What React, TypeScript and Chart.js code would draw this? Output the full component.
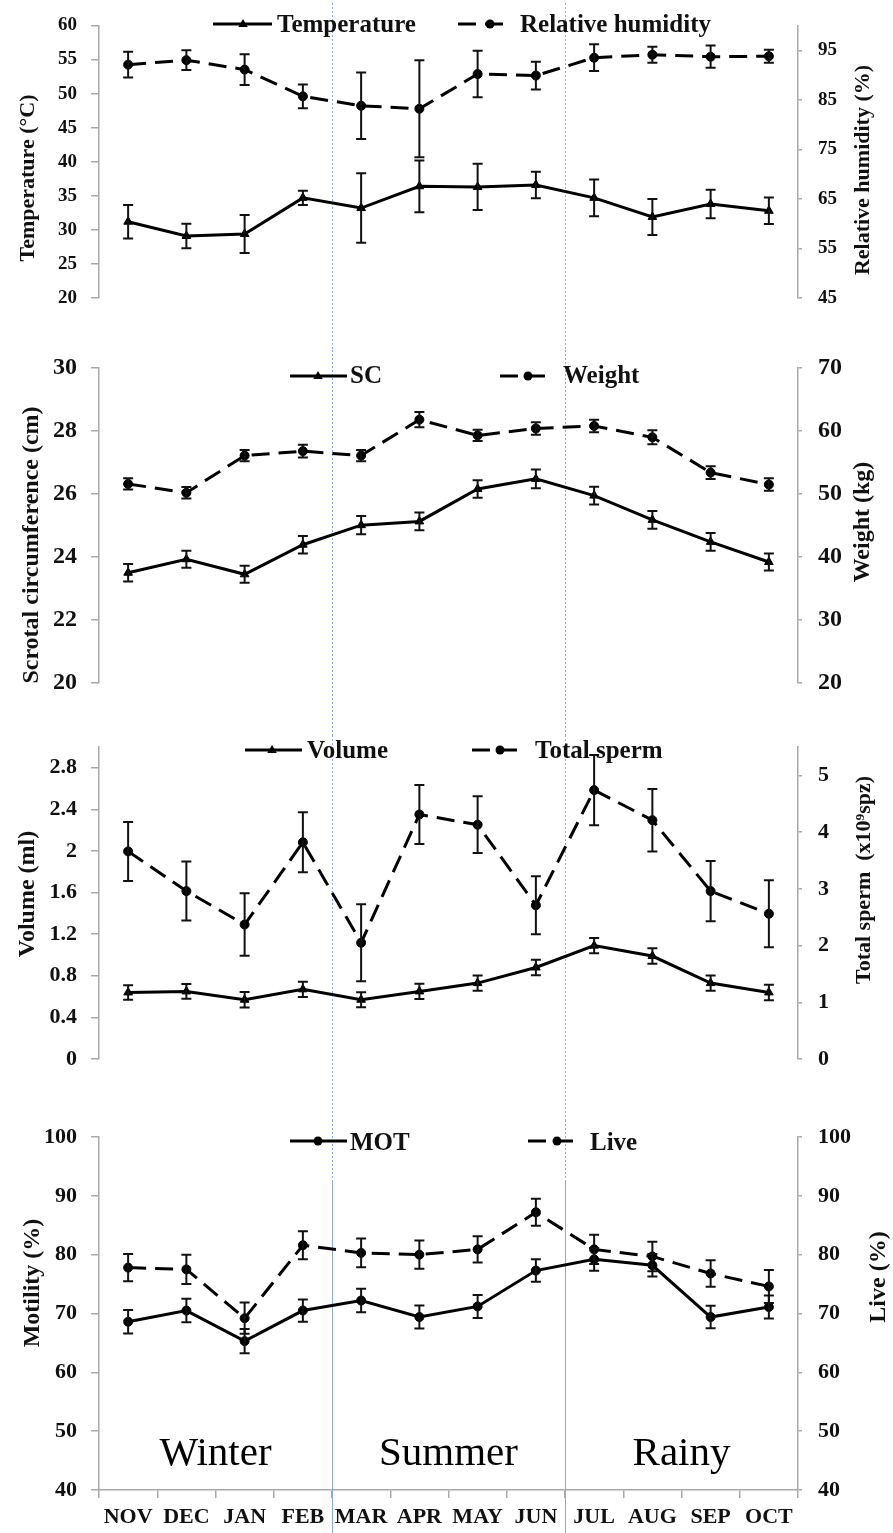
import React, { useEffect, useRef } from 'react';
import { Chart, registerables } from 'chart.js';

Chart.register(...registerables);

// ---------------- DATA ----------------
const months = ['NOV', 'DEC', 'JAN', 'FEB', 'MAR', 'APR', 'MAY', 'JUN', 'JUL', 'AUG', 'SEP', 'OCT'];

const temperature = [31.2, 29.1, 29.4, 34.7, 33.2, 36.4, 36.3, 36.6, 34.7, 31.9, 33.8, 32.8];
const temperatureErr = [2.45, 1.8, 2.8, 1.05, 5.1, 3.8, 3.4, 1.95, 2.7, 2.65, 2.1, 1.95];
const humidity = [92.1, 93.0, 91.1, 85.7, 83.8, 83.2, 90.2, 89.9, 93.5, 94.1, 93.7, 93.8];
const humidityErr = [2.6, 2.0, 3.1, 2.4, 6.7, 9.8, 4.7, 2.8, 2.7, 1.6, 2.25, 1.3];

const scrotal = [23.5, 23.93, 23.45, 24.39, 25.01, 25.13, 26.16, 26.48, 25.95, 25.18, 24.48, 23.84];
const scrotalErr = [0.28, 0.27, 0.27, 0.28, 0.29, 0.28, 0.28, 0.3, 0.28, 0.28, 0.28, 0.27];
const weight = [51.6, 50.2, 56.1, 56.8, 56.1, 61.8, 59.3, 60.4, 60.8, 59.0, 53.4, 51.5];
const weightErr = [0.9, 0.9, 0.9, 1.0, 0.9, 1.2, 0.9, 1.0, 1.0, 1.1, 1.0, 1.0];

const volume = [0.64, 0.65, 0.57, 0.67, 0.57, 0.65, 0.73, 0.88, 1.09, 0.99, 0.73, 0.64];
const volumeErr = [0.07, 0.07, 0.075, 0.073, 0.073, 0.074, 0.073, 0.075, 0.074, 0.075, 0.073, 0.074];
const totalSperm = [3.66, 2.96, 2.37, 3.82, 2.05, 4.31, 4.13, 2.71, 4.74, 4.21, 2.96, 2.56];
const totalSpermErr = [0.52, 0.52, 0.55, 0.53, 0.68, 0.52, 0.5, 0.51, 0.62, 0.55, 0.53, 0.59];

const motility = [68.6, 70.5, 65.3, 70.5, 72.2, 69.4, 71.2, 77.3, 79.2, 78.2, 69.4, 71.1];
const motilityErr = [2.0, 2.0, 2.05, 1.9, 2.0, 1.95, 1.95, 1.9, 1.95, 1.9, 1.9, 1.95];
const live = [77.8, 77.5, 69.2, 81.6, 80.3, 80.0, 80.9, 87.2, 80.9, 79.7, 76.8, 74.6];
const liveErr = [2.3, 2.5, 2.65, 2.4, 2.45, 2.4, 2.25, 2.3, 2.5, 2.5, 2.25, 2.8];

const temperatureTicks = [20, 25, 30, 35, 40, 45, 50, 55, 60];
const humidityTicks = [45, 55, 65, 75, 85, 95];
const scrotalTicks = [20, 22, 24, 26, 28, 30];
const weightTicks = [20, 30, 40, 50, 60, 70];
const volumeTicks = [0, 0.4, 0.8, 1.2, 1.6, 2, 2.4, 2.8];
const totalSpermTicks = [0, 1, 2, 3, 4, 5];
const motilityTicks = [40, 50, 60, 70, 80, 90, 100];
const liveTicks = [40, 50, 60, 70, 80, 90, 100];

const seasons = ['Winter', 'Summer', 'Rainy'];
const seasonRanges = [[0, 3], [4, 7], [8, 11]];
const seasonBreaks = [[3, 4], [7, 8]];

// ---------------- STYLE / LAYOUT ----------------
const FONT = "'Liberation Serif', 'Times New Roman', Times, serif";
const AXIS = '#a9a9a9';
const DIVIDER = '#8eaad8';
const W = 893;
const DASH = [18, 9];

type Series = { label: string; data: number[]; err: number[]; axis: string; dashed: boolean; marker: string };
type LegendItem = { text: string; x0: number; x1: number; mx: number; tx: number; dashed: boolean; marker: string };
type AxisDef = { min: number; max: number; ticks: number[]; size: number };
type TitleDef = { text: string; x: number; y: number; size: number };
type Panel = {
  top: number; height: number; plotTop: number; plotBottom: number; showX: boolean;
  left: AxisDef; right: AxisDef; leftTitle: TitleDef; rightTitle: TitleDef;
  legendLineY: number; legendBaseline: number; legend: LegendItem[]; series: Series[];
  divider: number[]; solidFrom?: number; seasons: boolean;
};

const panels: Panel[] = [
  {
    top: 0, height: 360, plotTop: 17, plotBottom: 341, showX: false,
    left: { min: 20, max: 60, ticks: temperatureTicks, size: 19 },
    right: { min: 45, max: 100, ticks: humidityTicks, size: 19 },
    leftTitle: { text: 'Temperature (°C)', x: 28, y: 178, size: 22 },
    rightTitle: { text: 'Relative humidity (%)', x: 863, y: 170, size: 22 },
    legendLineY: 24, legendBaseline: 32,
    legend: [
      { text: 'Temperature', x0: 213, x1: 272, mx: 243, tx: 277, dashed: false, marker: 'triangle' },
      { text: 'Relative humidity', x0: 458, x1: 503, mx: 490, tx: 520, dashed: true, marker: 'circle' },
    ],
    series: [
      { label: 'Temperature', data: temperature, err: temperatureErr, axis: 'yL', dashed: false, marker: 'triangle' },
      { label: 'Relative humidity', data: humidity, err: humidityErr, axis: 'yR', dashed: true, marker: 'circle' },
    ],
    divider: [3, 350], seasons: false,
  },
  {
    top: 340, height: 410, plotTop: 367, plotBottom: 726, showX: false,
    left: { min: 20, max: 30, ticks: scrotalTicks, size: 24 },
    right: { min: 20, max: 70, ticks: weightTicks, size: 24 },
    leftTitle: { text: 'Scrotal circumference (cm)', x: 32, y: 545, size: 24 },
    rightTitle: { text: 'Weight (kg)', x: 863, y: 522, size: 24 },
    legendLineY: 376, legendBaseline: 383,
    legend: [
      { text: 'SC', x0: 290, x1: 347, mx: 318, tx: 350, dashed: false, marker: 'triangle' },
      { text: 'Weight', x0: 500, x1: 547, mx: 528, tx: 563, dashed: true, marker: 'circle' },
    ],
    series: [
      { label: 'SC', data: scrotal, err: scrotalErr, axis: 'yL', dashed: false, marker: 'triangle' },
      { label: 'Weight', data: weight, err: weightErr, axis: 'yR', dashed: true, marker: 'circle' },
    ],
    divider: [350, 735], seasons: false,
  },
  {
    top: 720, height: 410, plotTop: 745, plotBottom: 1102, showX: false,
    left: { min: 0, max: 3, ticks: volumeTicks, size: 22 },
    right: { min: 0, max: 5.5, ticks: totalSpermTicks, size: 22 },
    leftTitle: { text: 'Volume (ml)', x: 28, y: 894, size: 24 },
    rightTitle: { text: 'Total sperm  (x10⁹spz)', x: 864, y: 880, size: 22 },
    legendLineY: 750, legendBaseline: 758,
    legend: [
      { text: 'Volume', x0: 245, x1: 302, mx: 272, tx: 307, dashed: false, marker: 'triangle' },
      { text: 'Total sperm', x0: 472, x1: 518, mx: 500, tx: 535, dashed: true, marker: 'circle' },
    ],
    series: [
      { label: 'Volume', data: volume, err: volumeErr, axis: 'yL', dashed: false, marker: 'triangle' },
      { label: 'Total sperm', data: totalSperm, err: totalSpermErr, axis: 'yR', dashed: true, marker: 'circle' },
    ],
    divider: [735, 1120], seasons: false,
  },
  {
    top: 1110, height: 423, plotTop: 1133, plotBottom: 1490, showX: true,
    left: { min: 40, max: 100, ticks: motilityTicks, size: 22 },
    right: { min: 40, max: 100, ticks: liveTicks, size: 22 },
    leftTitle: { text: 'Motility (%)', x: 33, y: 1283, size: 24 },
    rightTitle: { text: 'Live (%)', x: 879, y: 1277, size: 24 },
    legendLineY: 1141, legendBaseline: 1150,
    legend: [
      { text: 'MOT', x0: 290, x1: 347, mx: 318, tx: 350, dashed: false, marker: 'circle' },
      { text: 'Live', x0: 528, x1: 573, mx: 557, tx: 590, dashed: true, marker: 'circle' },
    ],
    series: [
      { label: 'MOT', data: motility, err: motilityErr, axis: 'yL', dashed: false, marker: 'circle' },
      { label: 'Live', data: live, err: liveErr, axis: 'yR', dashed: true, marker: 'circle' },
    ],
    divider: [1120, 1533], solidFrom: 1182, seasons: true,
  },
];

function drawMarker(ctx: CanvasRenderingContext2D, kind: string, x: number, y: number, r: number) {
  ctx.beginPath();
  if (kind === 'triangle') {
    ctx.moveTo(x, y - r);
    ctx.lineTo(x + r * 0.95, y + r * 0.6);
    ctx.lineTo(x - r * 0.95, y + r * 0.6);
    ctx.closePath();
  } else {
    ctx.arc(x, y, r, 0, Math.PI * 2);
  }
  ctx.fill();
}

function makeDecor(p: Panel) {
  const ly = (g: number) => g - p.top;
  return {
    id: 'decor',
    beforeDatasetsDraw(chart: any) {
      const ctx = chart.ctx as CanvasRenderingContext2D;
      const xs = chart.scales.x;
      ctx.save();
      ctx.strokeStyle = DIVIDER;
      ctx.lineWidth = 1;
      for (const [a, b] of seasonBreaks) {
        const x = Math.round((xs.getPixelForValue(a) + xs.getPixelForValue(b)) / 2) + 0.5;
        const y0 = ly(p.divider[0]);
        const y1 = ly(p.divider[1]);
        const ys = p.solidFrom !== undefined ? ly(p.solidFrom) : y1;
        ctx.setLineDash([2, 2]);
        ctx.beginPath();
        ctx.moveTo(x, y0);
        ctx.lineTo(x, ys);
        ctx.stroke();
        if (ys < y1) {
          ctx.setLineDash([]);
          ctx.beginPath();
          ctx.moveTo(x, ys);
          ctx.lineTo(x, y1);
          ctx.stroke();
        }
      }
      ctx.restore();
    },
    afterDatasetsDraw(chart: any) {
      const ctx = chart.ctx as CanvasRenderingContext2D;
      ctx.save();
      ctx.strokeStyle = '#111';
      ctx.lineWidth = 2;
      ctx.setLineDash([]);
      chart.data.datasets.forEach((ds: any, di: number) => {
        const meta = chart.getDatasetMeta(di);
        const ys = chart.scales[ds.yAxisID];
        const errs: number[] = ds.errorBars || [];
        meta.data.forEach((pt: any, i: number) => {
          const v = ds.data[i];
          const e = errs[i] || 0;
          const x = pt.x;
          const yt = ys.getPixelForValue(v + e);
          const yb = ys.getPixelForValue(v - e);
          ctx.beginPath();
          ctx.moveTo(x, yt); ctx.lineTo(x, yb);
          ctx.moveTo(x - 5, yt); ctx.lineTo(x + 5, yt);
          ctx.moveTo(x - 5, yb); ctx.lineTo(x + 5, yb);
          ctx.stroke();
        });
      });
      ctx.restore();
    },
    afterDraw(chart: any) {
      const ctx = chart.ctx as CanvasRenderingContext2D;
      ctx.save();
      // legend
      for (const it of p.legend) {
        const y = ly(p.legendLineY);
        ctx.strokeStyle = '#000';
        ctx.fillStyle = '#000';
        ctx.lineWidth = 3;
        ctx.setLineDash(it.dashed ? DASH : []);
        ctx.beginPath();
        ctx.moveTo(it.x0, y);
        ctx.lineTo(it.x1, y);
        ctx.stroke();
        ctx.setLineDash([]);
        drawMarker(ctx, it.marker, it.mx, y, it.marker === 'triangle' ? 5 : 4.5);
        ctx.font = `bold 25px ${FONT}`;
        ctx.textAlign = 'left';
        ctx.textBaseline = 'alphabetic';
        ctx.fillStyle = '#111';
        ctx.fillText(it.text, it.tx, ly(p.legendBaseline));
      }
      // axis titles (both rotated to read bottom-to-top)
      for (const t of [p.leftTitle, p.rightTitle]) {
        ctx.save();
        ctx.translate(t.x, ly(t.y));
        ctx.rotate(-Math.PI / 2);
        ctx.font = `bold ${t.size}px ${FONT}`;
        ctx.textAlign = 'center';
        ctx.textBaseline = 'middle';
        ctx.fillStyle = '#111';
        ctx.fillText(t.text, 0, 0);
        ctx.restore();
      }
      // season labels
      if (p.seasons) {
        const xs = chart.scales.x;
        ctx.font = `41px ${FONT}`;
        ctx.textAlign = 'center';
        ctx.textBaseline = 'alphabetic';
        ctx.fillStyle = '#000';
        seasons.forEach((s, i) => {
          const [a, b] = seasonRanges[i];
          const x = (xs.getPixelForValue(a) + xs.getPixelForValue(b)) / 2;
          ctx.fillText(s, x, ly(1465));
        });
      }
      ctx.restore();
    },
  };
}

function yAxis(def: AxisDef, position: 'left' | 'right') {
  return {
    type: 'linear',
    position,
    min: def.min,
    max: def.max,
    afterBuildTicks: (scale: any) => {
      scale.ticks = def.ticks.map((v) => ({ value: v }));
    },
    afterFit: (scale: any) => {
      scale.width = position === 'left' ? 99 : 95;
    },
    grid: {
      drawOnChartArea: false,
      color: AXIS,
      lineWidth: 1.5,
      tickLength: position === 'left' ? 8 : 4,
    },
    border: { display: true, color: AXIS, width: 1.5 },
    ticks: {
      color: '#111',
      padding: position === 'left' ? 14 : 16,
      font: { family: FONT, size: def.size, weight: 'bold', lineHeight: 1 },
      callback: (v: any) => `${v}`,
    },
  };
}

function buildConfig(p: Panel): any {
  return {
    type: 'line',
    data: {
      labels: months,
      datasets: p.series.map((s) => ({
        label: s.label,
        data: s.data,
        errorBars: s.err,
        yAxisID: s.axis,
        borderColor: '#000',
        backgroundColor: '#000',
        borderWidth: 3,
        borderDash: s.dashed ? DASH : [],
        pointStyle: s.marker,
        pointRadius: s.marker === 'triangle' ? 5 : 4.5,
        pointBackgroundColor: '#000',
        pointBorderColor: '#000',
        pointBorderWidth: 1,
        tension: 0,
        fill: false,
        clip: false,
      })),
    },
    options: {
      responsive: false,
      maintainAspectRatio: false,
      animation: false,
      devicePixelRatio: 1,
      layout: {
        padding: {
          top: p.plotTop - p.top,
          bottom: p.showX ? 0 : p.top + p.height - p.plotBottom,
          left: 0,
          right: 0,
        },
      },
      plugins: {
        legend: { display: false },
        tooltip: { enabled: false },
      },
      scales: {
        x: {
          type: 'category',
          offset: true,
          display: p.showX,
          grid: { offset: true, drawOnChartArea: false, color: AXIS, lineWidth: 1.5, tickLength: 8 },
          border: { display: true, color: AXIS, width: 1.5 },
          ticks: {
            color: '#111',
            padding: 6,
            maxRotation: 0,
            autoSkip: false,
            font: { family: FONT, size: 22, weight: 'bold' },
          },
          afterFit: (scale: any) => {
            scale.height = 43;
          },
        },
        yL: yAxis(p.left, 'left'),
        yR: yAxis(p.right, 'right'),
      },
    },
    plugins: [makeDecor(p)],
  };
}

function PanelChart({ p }: { p: Panel }) {
  const ref = useRef<HTMLCanvasElement | null>(null);
  useEffect(() => {
    if (!ref.current) return;
    const chart = new Chart(ref.current, buildConfig(p));
    return () => chart.destroy();
  }, [p]);
  return (
    <canvas
      ref={ref}
      width={W}
      height={p.height}
      style={{ position: 'absolute', left: 0, top: p.top, width: W, height: p.height }}
    />
  );
}

export default function App() {
  return (
    <div style={{ position: 'absolute', left: 0, top: 0, width: W, height: 1533, background: '#fff', overflow: 'hidden' }}>
      {panels.map((p, i) => (
        <PanelChart key={i} p={p} />
      ))}
    </div>
  );
}
